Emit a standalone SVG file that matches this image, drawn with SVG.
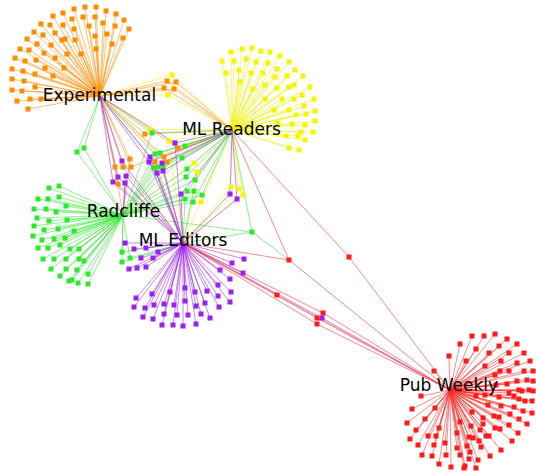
<svg xmlns="http://www.w3.org/2000/svg" xmlns:xlink="http://www.w3.org/1999/xlink" width="536" height="473" viewBox="0 0 536 473">
<style>
.e{fill:none;stroke-width:1;stroke-opacity:0.55}
.eo{stroke:#ff8c00}.ey{stroke:#f0f000}.eg{stroke:#2ee82e}.ep{stroke:#9a1ff0}.er{stroke:#ff2a2a}.ex{stroke:#b03a20}
.o{fill:#ff8c00}.y{fill:#f5f500}.g{fill:#2ee82e}.p{fill:#9a1ff0}.r{fill:#ff1a1a}
.lbl{font-family:"DejaVu Sans","Liberation Sans",sans-serif;font-size:17px;fill:#000;text-anchor:middle}
</style>
<defs><rect id="s" x="-2.5" y="-2.5" width="5" height="5"/></defs>
<rect width="536" height="473" fill="#fff"/>
<g id="connectors">
<path class="e eo" d="M100 96L74 9M100 96L85 7M100 96L96 7M100 96L106 11M100 96L116 14M100 96L124 20M100 96L129 29M100 96L53 16M100 96L63 13M100 96L72 19M100 96L83 17M100 96L95 17M100 96L103 23M100 96L115 26M100 96L41 24M100 96L50 25M100 96L63 25M100 96L74 29M100 96L89 26M100 96L107 34M100 96L123 38M100 96L34 32M100 96L43 35M100 96L55 33M100 96L65 39M100 96L75 40M100 96L95 36M100 96L112 44M100 96L27 39M100 96L37 44M100 96L51 45M100 96L62 40M100 96L81 54M100 96L96 49M100 96L20 49M100 96L29 50M100 96L44 53M100 96L55 58M100 96L67 54M100 96L15 58M100 96L25 61M100 96L36 60M100 96L45 68M100 96L64 68M100 96L12 69M100 96L23 71M100 96L35 74M100 96L53 76M100 96L12 79M100 96L24 81M100 96L35 87M100 96L12 90M100 96L22 91M100 96L17 101M100 96L30 99M100 96L41 99M100 96L28 109
M100 96L145 134M100 96L178 148M100 96L164 157M100 96L155 162M100 96L167 162M100 96L130 159M100 96L115 167M100 96L123 167M100 96L131 167M100 96L118 184M100 96L167 81M100 96L176 82M100 96L164 88M100 96L174 89
M232 130L145 134M232 130L178 148M232 130L164 157M232 130L167 162M232 130L131 167M232 130L167 81M232 130L176 82M232 130L164 88M232 130L174 89
M183 243L155 162M183 243L123 167M183 243L118 184M123 215L130 159M123 215L115 167"/>
<path class="e ey" d="M232 130L231 52M232 130L242 49M232 130L252 48M232 130L261 51M232 130L270 52M232 130L280 56M232 130L289 62M232 130L295 70M232 130L303 76M232 130L310 87M232 130L314 99M232 130L315 111M232 130L315 121M232 130L313 132M232 130L305 140M232 130L299 150M232 130L289 148M232 130L298 136M232 130L305 125M232 130L306 114M232 130L304 106M232 130L302 95M232 130L294 85M232 130L287 76M232 130L277 69M232 130L268 63M232 130L256 62M232 130L246 59M232 130L234 61M232 130L222 61M232 130L226 73M232 130L239 70M232 130L251 73M232 130L263 73M232 130L275 77M232 130L277 88M232 130L265 85M232 130L253 89M232 130L240 82M232 130L289 87M232 130L294 99M232 130L282 99M232 130L265 99M232 130L289 110M232 130L274 110M232 130L296 115M232 130L278 123M232 130L292 124M232 130L286 136M232 130L301 132
M100 96L150 129M100 96L172 75M100 96L168 95
M232 130L150 129M232 130L169 141M232 130L194 163M232 130L197 172M232 130L201 202M232 130L231 187M232 130L239 189M232 130L243 195M232 130L172 75M232 130L168 95
M183 243L169 141M183 243L197 172M183 243L201 202M183 243L231 187M183 243L239 189M183 243L243 195M123 215L194 163"/>
<path class="e eg" d="M123 215L59 186M123 215L49 188M123 215L38 199M123 215L48 199M123 215L59 197M123 215L34 209M123 215L46 209M123 215L56 212M123 215L66 206M123 215L37 218M123 215L49 221M123 215L67 220M123 215L34 226M123 215L44 230M123 215L58 229M123 215L74 231M123 215L33 236M123 215L42 240M123 215L54 239M123 215L65 238M123 215L38 248M123 215L48 248M123 215L60 245M123 215L70 249M123 215L79 249M123 215L43 259M123 215L54 259M123 215L66 259M123 215L79 259M123 215L84 261M123 215L51 269M123 215L66 269M123 215L77 270M123 215L88 274M123 215L60 276M123 215L72 280M123 215L88 284M123 215L69 281M123 215L78 283M123 215L122 252M123 215L130 258M123 215L122 262
M100 96L152 133M100 96L155 154M100 96L77 152M100 96L84 148
M232 130L152 133M232 130L185 146M232 130L155 154M232 130L160 153M232 130L158 167M232 130L163 167M232 130L182 158M232 130L187 169M232 130L186 177M232 130L195 180M232 130L187 191M232 130L202 195M232 130L193 202M232 130L252 232
M123 215L152 133M123 215L185 146M123 215L155 154M123 215L160 153M123 215L158 167M123 215L154 168M123 215L163 167M123 215L182 158M123 215L187 169M123 215L186 177M123 215L195 180M123 215L187 191M123 215L194 191M123 215L202 195M123 215L185 199M123 215L193 202M123 215L252 232M123 215L77 152M123 215L84 148
M183 243L154 168M183 243L194 191M183 243L185 199M183 243L252 232M183 243L122 252M183 243L130 258M183 243L122 262M252 232L289 260"/>
<path class="e ep" d="M183 243L125 243M183 243L134 249M183 243L146 248M183 243L141 258M183 243L153 258M183 243L158 252M183 243L129 269M183 243L137 268M183 243L146 267M183 243L136 298M183 243L134 307M183 243L143 317M183 243L145 308M183 243L152 294M183 243L154 305M183 243L153 319M183 243L162 325M183 243L164 304M183 243L170 292M183 243L173 325M183 243L174 305M183 243L177 315M183 243L183 326M183 243L185 288M183 243L185 301M183 243L188 315M183 243L195 292M183 243L196 306M183 243L196 324M183 243L201 314M183 243L205 303M183 243L207 291M183 243L210 318M183 243L218 296M183 243L219 307M183 243L220 270M183 243L218 285M183 243L230 279M183 243L231 292M183 243L232 263M183 243L244 259M183 243L243 273M183 243L230 302M183 243L164 314
M100 96L175 143M100 96L150 157M100 96L157 173M100 96L122 161M100 96L118 177M100 96L113 182
M232 130L175 143M232 130L149 162M232 130L162 163M232 130L163 171M232 130L181 194M232 130L230 194M232 130L237 199
M183 243L175 143M183 243L150 157M183 243L149 162M183 243L162 163M183 243L157 173M183 243L163 171M183 243L122 161M183 243L118 177M183 243L126 176M183 243L113 182M183 243L125 183M183 243L181 194M183 243L230 194M183 243L237 199M183 243L322 318
M123 215L126 176M123 215L125 183M450 390L322 318"/>
<path class="e er" d="M450 390L472 336M450 390L484 336M450 390L495 334M450 390L507 339M450 390L517 344M450 390L524 353M450 390L530 361M450 390L533 371M450 390L533 381M450 390L533 391M450 390L532 401M450 390L532 413M450 390L527 424M450 390L518 433M450 390L512 441M450 390L501 450M450 390L490 456M450 390L478 460M450 390L465 466M450 390L451 467M450 390L439 464M450 390L422 455M450 390L410 439M450 390L407 423M450 390L412 409M450 390L421 396M450 390L460 344M450 390L476 349M450 390L489 353M450 390L499 346M450 390L509 353M450 390L517 363M450 390L524 371M450 390L527 380M450 390L529 390M450 390L525 401M450 390L523 411M450 390L519 419M450 390L509 425M450 390L500 429M450 390L489 436M450 390L479 441M450 390L467 446M450 390L457 448M450 390L445 443M450 390L432 456M450 390L428 436M450 390L418 445M450 390L416 430M450 390L425 419M450 390L435 408M450 390L449 356M450 390L466 361M450 390L485 366M450 390L501 361M450 390L509 371M450 390L517 381M450 390L522 391M450 390L514 396M450 390L514 407M450 390L510 414M450 390L499 417M450 390L495 428M450 390L483 424M450 390L486 436M450 390L481 447M450 390L470 452M450 390L460 455M450 390L469 459M450 390L464 468M450 390L476 468M450 390L446 455M450 390L434 445M450 390L436 436M450 390L439 428M450 390L457 433M450 390L469 437M450 390L460 422M450 390L471 426M450 390L473 438M450 390L480 430M450 390L500 371M450 390L495 375M450 390L509 393M450 390L499 397M450 390L488 405M450 390L501 406M450 390L494 416M450 390L483 418M450 390L472 412M450 390L476 396M450 390L485 395M450 390L496 385M450 390L507 384M450 390L519 390M450 390L519 399M450 390L434 371
M232 130L289 260M232 130L349 257M183 243L289 260M183 243L277 295M183 243L323 313M183 243L317 318M183 243L317 324M450 390L349 257M450 390L277 295M450 390L323 313M450 390L317 318M450 390L317 324"/>
<path class="e ex" d="M289 260L450 390"/>
</g>
<g id="experimental" class="o">
<use href="#s" x="74" y="9"/><use href="#s" x="85" y="7"/><use href="#s" x="96" y="7"/><use href="#s" x="106" y="11"/><use href="#s" x="116" y="14"/><use href="#s" x="124" y="20"/><use href="#s" x="129" y="29"/><use href="#s" x="53" y="16"/><use href="#s" x="63" y="13"/><use href="#s" x="72" y="19"/><use href="#s" x="83" y="17"/><use href="#s" x="95" y="17"/><use href="#s" x="103" y="23"/><use href="#s" x="115" y="26"/><use href="#s" x="41" y="24"/><use href="#s" x="50" y="25"/><use href="#s" x="63" y="25"/><use href="#s" x="74" y="29"/><use href="#s" x="89" y="26"/><use href="#s" x="107" y="34"/><use href="#s" x="123" y="38"/><use href="#s" x="34" y="32"/><use href="#s" x="43" y="35"/><use href="#s" x="55" y="33"/><use href="#s" x="65" y="39"/><use href="#s" x="75" y="40"/><use href="#s" x="95" y="36"/><use href="#s" x="112" y="44"/><use href="#s" x="27" y="39"/><use href="#s" x="37" y="44"/><use href="#s" x="51" y="45"/><use href="#s" x="62" y="40"/><use href="#s" x="81" y="54"/><use href="#s" x="96" y="49"/><use href="#s" x="20" y="49"/><use href="#s" x="29" y="50"/><use href="#s" x="44" y="53"/><use href="#s" x="55" y="58"/><use href="#s" x="67" y="54"/><use href="#s" x="15" y="58"/><use href="#s" x="25" y="61"/><use href="#s" x="36" y="60"/><use href="#s" x="45" y="68"/><use href="#s" x="64" y="68"/><use href="#s" x="12" y="69"/><use href="#s" x="23" y="71"/><use href="#s" x="35" y="74"/><use href="#s" x="53" y="76"/><use href="#s" x="12" y="79"/><use href="#s" x="24" y="81"/><use href="#s" x="35" y="87"/><use href="#s" x="12" y="90"/><use href="#s" x="22" y="91"/><use href="#s" x="17" y="101"/><use href="#s" x="30" y="99"/><use href="#s" x="41" y="99"/><use href="#s" x="28" y="109"/>
</g>
<g id="ml-readers" class="y">
<use href="#s" x="231" y="52"/><use href="#s" x="242" y="49"/><use href="#s" x="252" y="48"/><use href="#s" x="261" y="51"/><use href="#s" x="270" y="52"/><use href="#s" x="280" y="56"/><use href="#s" x="289" y="62"/><use href="#s" x="295" y="70"/><use href="#s" x="303" y="76"/><use href="#s" x="310" y="87"/><use href="#s" x="314" y="99"/><use href="#s" x="315" y="111"/><use href="#s" x="315" y="121"/><use href="#s" x="313" y="132"/><use href="#s" x="305" y="140"/><use href="#s" x="299" y="150"/><use href="#s" x="289" y="148"/><use href="#s" x="298" y="136"/><use href="#s" x="305" y="125"/><use href="#s" x="306" y="114"/><use href="#s" x="304" y="106"/><use href="#s" x="302" y="95"/><use href="#s" x="294" y="85"/><use href="#s" x="287" y="76"/><use href="#s" x="277" y="69"/><use href="#s" x="268" y="63"/><use href="#s" x="256" y="62"/><use href="#s" x="246" y="59"/><use href="#s" x="234" y="61"/><use href="#s" x="222" y="61"/><use href="#s" x="226" y="73"/><use href="#s" x="239" y="70"/><use href="#s" x="251" y="73"/><use href="#s" x="263" y="73"/><use href="#s" x="275" y="77"/><use href="#s" x="277" y="88"/><use href="#s" x="265" y="85"/><use href="#s" x="253" y="89"/><use href="#s" x="240" y="82"/><use href="#s" x="289" y="87"/><use href="#s" x="294" y="99"/><use href="#s" x="282" y="99"/><use href="#s" x="265" y="99"/><use href="#s" x="289" y="110"/><use href="#s" x="274" y="110"/><use href="#s" x="296" y="115"/><use href="#s" x="278" y="123"/><use href="#s" x="292" y="124"/><use href="#s" x="286" y="136"/><use href="#s" x="301" y="132"/>
</g>
<g id="radcliffe" class="g">
<use href="#s" x="59" y="186"/><use href="#s" x="49" y="188"/><use href="#s" x="38" y="199"/><use href="#s" x="48" y="199"/><use href="#s" x="59" y="197"/><use href="#s" x="34" y="209"/><use href="#s" x="46" y="209"/><use href="#s" x="56" y="212"/><use href="#s" x="66" y="206"/><use href="#s" x="37" y="218"/><use href="#s" x="49" y="221"/><use href="#s" x="67" y="220"/><use href="#s" x="34" y="226"/><use href="#s" x="44" y="230"/><use href="#s" x="58" y="229"/><use href="#s" x="74" y="231"/><use href="#s" x="33" y="236"/><use href="#s" x="42" y="240"/><use href="#s" x="54" y="239"/><use href="#s" x="65" y="238"/><use href="#s" x="38" y="248"/><use href="#s" x="48" y="248"/><use href="#s" x="60" y="245"/><use href="#s" x="70" y="249"/><use href="#s" x="79" y="249"/><use href="#s" x="43" y="259"/><use href="#s" x="54" y="259"/><use href="#s" x="66" y="259"/><use href="#s" x="79" y="259"/><use href="#s" x="84" y="261"/><use href="#s" x="51" y="269"/><use href="#s" x="66" y="269"/><use href="#s" x="77" y="270"/><use href="#s" x="88" y="274"/><use href="#s" x="60" y="276"/><use href="#s" x="72" y="280"/><use href="#s" x="88" y="284"/><use href="#s" x="69" y="281"/><use href="#s" x="78" y="283"/><use href="#s" x="122" y="252"/><use href="#s" x="130" y="258"/><use href="#s" x="122" y="262"/>
</g>
<g id="ml-editors" class="p">
<use href="#s" x="125" y="243"/><use href="#s" x="134" y="249"/><use href="#s" x="146" y="248"/><use href="#s" x="141" y="258"/><use href="#s" x="153" y="258"/><use href="#s" x="158" y="252"/><use href="#s" x="129" y="269"/><use href="#s" x="137" y="268"/><use href="#s" x="146" y="267"/><use href="#s" x="136" y="298"/><use href="#s" x="134" y="307"/><use href="#s" x="143" y="317"/><use href="#s" x="145" y="308"/><use href="#s" x="152" y="294"/><use href="#s" x="154" y="305"/><use href="#s" x="153" y="319"/><use href="#s" x="162" y="325"/><use href="#s" x="164" y="304"/><use href="#s" x="170" y="292"/><use href="#s" x="173" y="325"/><use href="#s" x="174" y="305"/><use href="#s" x="177" y="315"/><use href="#s" x="183" y="326"/><use href="#s" x="185" y="288"/><use href="#s" x="185" y="301"/><use href="#s" x="188" y="315"/><use href="#s" x="195" y="292"/><use href="#s" x="196" y="306"/><use href="#s" x="196" y="324"/><use href="#s" x="201" y="314"/><use href="#s" x="205" y="303"/><use href="#s" x="207" y="291"/><use href="#s" x="210" y="318"/><use href="#s" x="218" y="296"/><use href="#s" x="219" y="307"/><use href="#s" x="220" y="270"/><use href="#s" x="218" y="285"/><use href="#s" x="230" y="279"/><use href="#s" x="231" y="292"/><use href="#s" x="232" y="263"/><use href="#s" x="244" y="259"/><use href="#s" x="243" y="273"/><use href="#s" x="230" y="302"/><use href="#s" x="164" y="314"/>
</g>
<g id="pub-weekly" class="r">
<use href="#s" x="472" y="336"/><use href="#s" x="484" y="336"/><use href="#s" x="495" y="334"/><use href="#s" x="507" y="339"/><use href="#s" x="517" y="344"/><use href="#s" x="524" y="353"/><use href="#s" x="530" y="361"/><use href="#s" x="533" y="371"/><use href="#s" x="533" y="381"/><use href="#s" x="533" y="391"/><use href="#s" x="532" y="401"/><use href="#s" x="532" y="413"/><use href="#s" x="527" y="424"/><use href="#s" x="518" y="433"/><use href="#s" x="512" y="441"/><use href="#s" x="501" y="450"/><use href="#s" x="490" y="456"/><use href="#s" x="478" y="460"/><use href="#s" x="465" y="466"/><use href="#s" x="451" y="467"/><use href="#s" x="439" y="464"/><use href="#s" x="422" y="455"/><use href="#s" x="410" y="439"/><use href="#s" x="407" y="423"/><use href="#s" x="412" y="409"/><use href="#s" x="421" y="396"/><use href="#s" x="460" y="344"/><use href="#s" x="476" y="349"/><use href="#s" x="489" y="353"/><use href="#s" x="499" y="346"/><use href="#s" x="509" y="353"/><use href="#s" x="517" y="363"/><use href="#s" x="524" y="371"/><use href="#s" x="527" y="380"/><use href="#s" x="529" y="390"/><use href="#s" x="525" y="401"/><use href="#s" x="523" y="411"/><use href="#s" x="519" y="419"/><use href="#s" x="509" y="425"/><use href="#s" x="500" y="429"/><use href="#s" x="489" y="436"/><use href="#s" x="479" y="441"/><use href="#s" x="467" y="446"/><use href="#s" x="457" y="448"/><use href="#s" x="445" y="443"/><use href="#s" x="432" y="456"/><use href="#s" x="428" y="436"/><use href="#s" x="418" y="445"/><use href="#s" x="416" y="430"/><use href="#s" x="425" y="419"/><use href="#s" x="435" y="408"/><use href="#s" x="449" y="356"/><use href="#s" x="466" y="361"/><use href="#s" x="485" y="366"/><use href="#s" x="501" y="361"/><use href="#s" x="509" y="371"/><use href="#s" x="517" y="381"/><use href="#s" x="522" y="391"/><use href="#s" x="514" y="396"/><use href="#s" x="514" y="407"/><use href="#s" x="510" y="414"/><use href="#s" x="499" y="417"/><use href="#s" x="495" y="428"/><use href="#s" x="483" y="424"/><use href="#s" x="486" y="436"/><use href="#s" x="481" y="447"/><use href="#s" x="470" y="452"/><use href="#s" x="460" y="455"/><use href="#s" x="469" y="459"/><use href="#s" x="464" y="468"/><use href="#s" x="476" y="468"/><use href="#s" x="446" y="455"/><use href="#s" x="434" y="445"/><use href="#s" x="436" y="436"/><use href="#s" x="439" y="428"/><use href="#s" x="457" y="433"/><use href="#s" x="469" y="437"/><use href="#s" x="460" y="422"/><use href="#s" x="471" y="426"/><use href="#s" x="473" y="438"/><use href="#s" x="480" y="430"/><use href="#s" x="500" y="371"/><use href="#s" x="495" y="375"/><use href="#s" x="509" y="393"/><use href="#s" x="499" y="397"/><use href="#s" x="488" y="405"/><use href="#s" x="501" y="406"/><use href="#s" x="494" y="416"/><use href="#s" x="483" y="418"/><use href="#s" x="472" y="412"/><use href="#s" x="476" y="396"/><use href="#s" x="485" y="395"/><use href="#s" x="496" y="385"/><use href="#s" x="507" y="384"/><use href="#s" x="519" y="390"/><use href="#s" x="519" y="399"/><use href="#s" x="434" y="371"/>
</g>
<g id="shared">
<g class="o"><use href="#s" x="145" y="134"/><use href="#s" x="178" y="148"/><use href="#s" x="164" y="157"/><use href="#s" x="155" y="162"/><use href="#s" x="167" y="162"/><use href="#s" x="130" y="159"/><use href="#s" x="115" y="167"/><use href="#s" x="123" y="167"/><use href="#s" x="131" y="167"/><use href="#s" x="118" y="184"/><use href="#s" x="167" y="81"/><use href="#s" x="176" y="82"/><use href="#s" x="164" y="88"/><use href="#s" x="174" y="89"/></g>
<g class="y"><use href="#s" x="150" y="129"/><use href="#s" x="169" y="141"/><use href="#s" x="194" y="163"/><use href="#s" x="197" y="172"/><use href="#s" x="201" y="202"/><use href="#s" x="231" y="187"/><use href="#s" x="239" y="189"/><use href="#s" x="243" y="195"/><use href="#s" x="172" y="75"/><use href="#s" x="168" y="95"/></g>
<g class="g"><use href="#s" x="152" y="133"/><use href="#s" x="185" y="146"/><use href="#s" x="155" y="154"/><use href="#s" x="160" y="153"/><use href="#s" x="158" y="167"/><use href="#s" x="154" y="168"/><use href="#s" x="163" y="167"/><use href="#s" x="182" y="158"/><use href="#s" x="187" y="169"/><use href="#s" x="186" y="177"/><use href="#s" x="195" y="180"/><use href="#s" x="187" y="191"/><use href="#s" x="194" y="191"/><use href="#s" x="202" y="195"/><use href="#s" x="185" y="199"/><use href="#s" x="193" y="202"/><use href="#s" x="252" y="232"/><use href="#s" x="77" y="152"/><use href="#s" x="84" y="148"/></g>
<g class="p"><use href="#s" x="175" y="143"/><use href="#s" x="150" y="157"/><use href="#s" x="149" y="162"/><use href="#s" x="162" y="163"/><use href="#s" x="157" y="173"/><use href="#s" x="163" y="171"/><use href="#s" x="122" y="161"/><use href="#s" x="118" y="177"/><use href="#s" x="126" y="176"/><use href="#s" x="113" y="182"/><use href="#s" x="125" y="183"/><use href="#s" x="181" y="194"/><use href="#s" x="230" y="194"/><use href="#s" x="237" y="199"/><use href="#s" x="322" y="318"/></g>
<g class="r"><use href="#s" x="289" y="260"/><use href="#s" x="349" y="257"/><use href="#s" x="277" y="295"/><use href="#s" x="323" y="313"/><use href="#s" x="317" y="318"/><use href="#s" x="317" y="324"/></g>
</g>
<g id="labels">
<text class="lbl" x="99.5" y="101">Experimental</text>
<text class="lbl" x="231.5" y="135">ML Readers</text>
<text class="lbl" x="123.5" y="217">Radcliffe</text>
<text class="lbl" x="183" y="246">ML Editors</text>
<text class="lbl" x="449" y="391">Pub Weekly</text>
</g>
</svg>
